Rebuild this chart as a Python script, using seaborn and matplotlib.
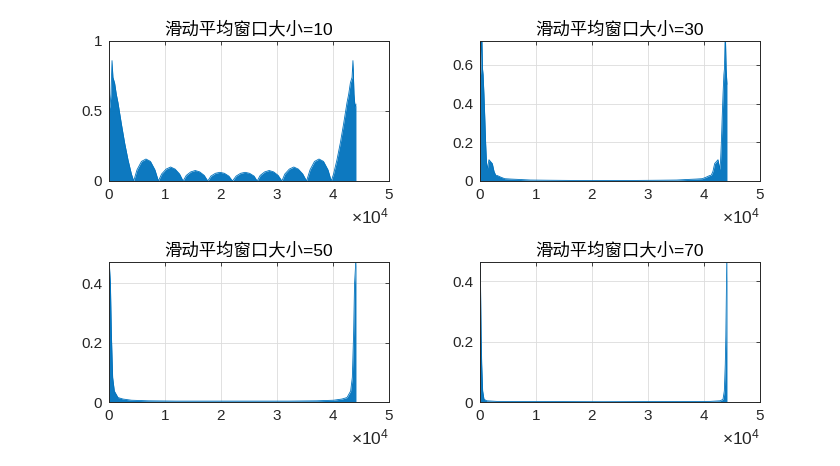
import matplotlib

matplotlib.use("Agg")
import matplotlib.pyplot as plt
import seaborn as sns
from matplotlib.ticker import FuncFormatter, ScalarFormatter

# upper envelope of |FFT| (x in samples)
w10_x = [0, 150, 350, 540, 700, 1000, 1300, 1600, 2200, 2800, 3400, 4000, 4410,
         5000, 5800, 6600, 7400, 8200, 8820,
         9400, 10200, 11000, 11800, 12600, 13230,
         13800, 14600, 15400, 16200, 17000, 17640,
         18200, 19000, 19800, 20600, 21400, 22050,
         22700, 23500, 24300, 25100, 25900, 26460,
         27000, 27800, 28600, 29400, 30200, 30870,
         31400, 32200, 33000, 33800, 34600, 35280,
         35900, 36700, 37500, 38300, 39100, 39690,
         40100, 40700, 41300, 41900, 42500, 42800, 43100, 43400, 43560, 43750, 43950, 44100]
w10_y = [0.55, 0.52, 0.62, 0.86, 0.74, 0.70, 0.62, 0.56, 0.41, 0.27, 0.15, 0.05, 0.0,
         0.08, 0.14, 0.157, 0.14, 0.08, 0.0,
         0.05, 0.085, 0.10, 0.085, 0.05, 0.0,
         0.04, 0.065, 0.075, 0.065, 0.04, 0.0,
         0.035, 0.055, 0.062, 0.055, 0.035, 0.0,
         0.035, 0.055, 0.062, 0.055, 0.035, 0.0,
         0.04, 0.065, 0.075, 0.065, 0.04, 0.0,
         0.05, 0.085, 0.10, 0.085, 0.05, 0.0,
         0.08, 0.14, 0.157, 0.14, 0.08, 0.0,
         0.05, 0.15, 0.27, 0.41, 0.56, 0.62, 0.70, 0.74, 0.86, 0.62, 0.52, 0.55]

w30_x = [0, 150, 300, 450, 550, 700, 850, 1000, 1150, 1300, 1600, 1900, 2200, 2500,
         2800, 3100, 3700, 4400, 5500, 7000, 9000, 12000, 16000, 22050,
         28100, 32100, 35100, 37100, 38600, 39700, 40400, 41000, 41300, 41600, 41900,
         42200, 42500, 42800, 42950, 43100, 43250, 43400, 43550, 43650, 43800, 43950, 44100]
w30_y = [0.50, 0.58, 0.78, 0.58, 0.55, 0.45, 0.33, 0.20, 0.10, 0.06, 0.11, 0.10, 0.09, 0.05,
         0.03, 0.028, 0.02, 0.012, 0.01, 0.008, 0.005, 0.004, 0.003, 0.003,
         0.003, 0.004, 0.005, 0.008, 0.01, 0.012, 0.02, 0.028, 0.03, 0.05, 0.09,
         0.10, 0.11, 0.06, 0.10, 0.20, 0.33, 0.45, 0.55, 0.58, 0.78, 0.58, 0.50]

w50_x = [0, 100, 250, 420, 650, 950, 1600, 2500, 4000, 7000, 12000, 22050,
         32100, 37100, 40100, 41600, 42500, 43150, 43450, 43680, 43850, 44000, 44100]
w50_y = [0.50, 0.45, 0.40, 0.23, 0.083, 0.037, 0.015, 0.01, 0.006, 0.004, 0.003, 0.003,
         0.003, 0.004, 0.006, 0.01, 0.015, 0.037, 0.083, 0.23, 0.40, 0.45, 0.50]

w70_x = [0, 40, 120, 200, 300, 470, 710, 1200, 3000, 22050,
         41100, 42900, 43390, 43630, 43800, 43900, 43980, 44060, 44100]
w70_y = [0.50, 0.46, 0.34, 0.22, 0.126, 0.037, 0.009, 0.004, 0.002, 0.001,
         0.002, 0.004, 0.009, 0.037, 0.126, 0.22, 0.34, 0.46, 0.50]

titles = ["滑动平均窗口大小=10", "滑动平均窗口大小=30", "滑动平均窗口大小=50", "滑动平均窗口大小=70"]
ylims = [1.0, 0.724, 0.472, 0.464]
yticks = [[0, 0.5, 1], [0, 0.2, 0.4, 0.6], [0, 0.2, 0.4], [0, 0.2, 0.4]]
xticks = [0, 10000, 20000, 30000, 40000, 50000]

sns.set_style("white")
plt.rcParams["font.family"] = ["Liberation Sans", "Noto Sans CJK SC", "DejaVu Sans"]
plt.rcParams["mathtext.fontset"] = "custom"
plt.rcParams["mathtext.rm"] = "Liberation Sans"
plt.rcParams["axes.unicode_minus"] = False

blue = "#0072BD"
text_col = "#262626"

fig = plt.figure(figsize=(8.4, 4.66), dpi=100)
positions = [
    [109 / 840, 1 - 181 / 466, 280 / 840, 140 / 466],
    [480 / 840, 1 - 181 / 466, 280 / 840, 140 / 466],
    [109 / 840, 1 - 402 / 466, 280 / 840, 140 / 466],
    [480 / 840, 1 - 402 / 466, 280 / 840, 140 / 466],
]
series = [(w10_x, w10_y), (w30_x, w30_y), (w50_x, w50_y), (w70_x, w70_y)]

for i, (xs, ys) in enumerate(series):
    ax = fig.add_axes(positions[i])
    ax.fill_between(xs, 0, ys, color=blue, alpha=0.95, linewidth=0)
    sns.lineplot(x=xs, y=ys, ax=ax, color=blue, linewidth=0.6, estimator=None, sort=False)

    ax.set_xlim(0, 50000)
    ax.set_ylim(0, ylims[i])
    ax.set_xticks(xticks)
    ax.set_yticks(yticks[i])
    fmt = ScalarFormatter(useMathText=True)
    fmt.set_powerlimits((-1, 1))
    ax.xaxis.set_major_formatter(fmt)
    ax.yaxis.set_major_formatter(FuncFormatter(lambda v, p: f"{v:g}"))

    ax.grid(True, color="#dcdcdc", linewidth=0.6)
    ax.set_axisbelow(True)
    for s in ax.spines.values():
        s.set_color(text_col)
        s.set_linewidth(0.7)
    ax.tick_params(direction="in", length=3, width=0.6, top=True, right=True,
                   labelsize=11, colors=text_col, pad=5)
    ax.xaxis.get_offset_text().set_fontsize(12.5)
    ax.xaxis.get_offset_text().set_color(text_col)
    ax.set_title(titles[i], fontsize=12.5, color="black", pad=5)

fig.savefig("out.png", dpi=100)
